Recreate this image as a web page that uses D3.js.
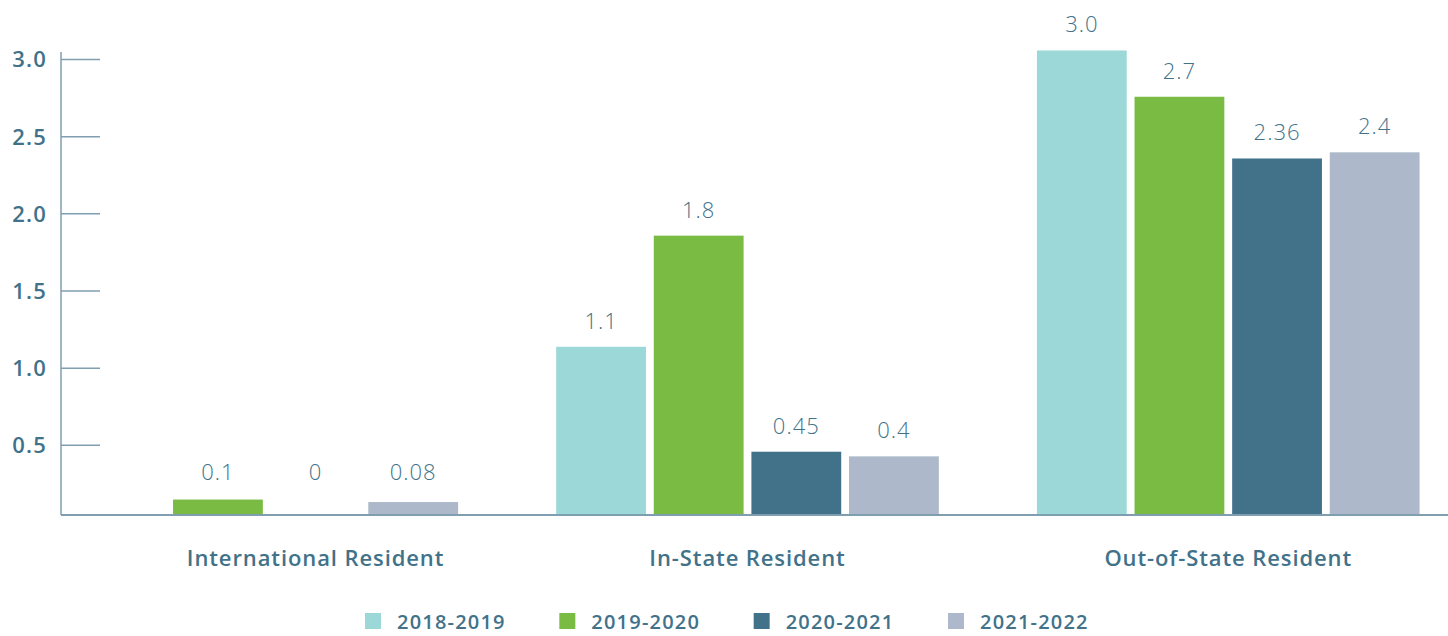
<!DOCTYPE html>
<html>
<head>
<meta charset="utf-8">
<script src="https://cdn.jsdelivr.net/npm/d3@7"></script>
<style>
    body { margin: 0; background: #fff; }
    svg text { font-family: "Open Sans", sans-serif; fill: #41728a; }
    .tick-label text { font-size: 22px; font-weight: 600; letter-spacing: 1.2px; }
    .val { font-size: 22px; font-weight: 300; letter-spacing: 1px; }
    .cat { font-size: 22px; font-weight: 600; letter-spacing: 0.9px; }
    .leg { font-size: 20px; font-weight: 600; letter-spacing: 1.2px; }
</style>
</head>
<body>
<div id="chart"></div>
<script>
// data kategori dan seri
var categories = ["International Resident", "In-State Resident", "Out-of-State Resident"];
var years = ["2018-2019", "2019-2020", "2020-2021", "2021-2022"];
var colors = ["#9dd8d9", "#79bb43", "#41728a", "#adb8ca"];

// tinggi batang per tahun (null = tidak ada data)
var v2018 = [null, 1.09, 3.01];
var v2019 = [0.1, 1.81, 2.71];
var v2020 = [0, 0.41, 2.31];
var v2021 = [0.084, 0.38, 2.35];

// teks label di atas batang
var t2018 = [null, "1.1", "3.0"];
var t2019 = ["0.1", "1.8", "2.7"];
var t2020 = ["0", "0.45", "2.36"];
var t2021 = ["0.08", "0.4", "2.4"];

var yTicks = [0.5, 1.0, 1.5, 2.0, 2.5, 3.0];

var seriesVals = [v2018, v2019, v2020, v2021];
var seriesText = [t2018, t2019, t2020, t2021];

var width = 1448, height = 636;
var left = 61, baseY = 515;

var svg = d3.select("#chart").append("svg")
    .attr("width", width)
    .attr("height", height);

var x0 = d3.scaleBand()
    .domain(categories)
    .range([left, 1434])
    .paddingInner(0.204)
    .paddingOuter(0.03);
var x1 = d3.scaleBand()
    .domain(years)
    .range([0, x0.bandwidth()])
    .paddingInner(0.08);
var y = d3.scaleLinear()
    .domain([0, 3])
    .range([baseY, 52]);

// susun data per batang
var bars = [];
categories.forEach(function (c, ci) {
    years.forEach(function (yr, si) {
        var v = seriesVals[si][ci];
        if (v === null) return;
        bars.push({ cat: c, year: yr, value: v, text: seriesText[si][ci], color: colors[si] });
    });
});

svg.selectAll(".bar")
    .data(bars)
    .enter().append("rect")
    .attr("class", "bar")
    .attr("x", function (d) { return x0(d.cat) + x1(d.year); })
    .attr("width", x1.bandwidth())
    .attr("y", function (d) { return y(d.value); })
    .attr("height", function (d) { return baseY - y(d.value); })
    .attr("fill", function (d) { return d.color; });

svg.selectAll(".val")
    .data(bars)
    .enter().append("text")
    .attr("class", "val")
    .attr("x", function (d) { return x0(d.cat) + x1(d.year) + x1.bandwidth() / 2; })
    .attr("y", function (d) { return Math.min(y(d.value) - 18, baseY - 35); })
    .attr("text-anchor", "middle")
    .text(function (d) { return d.text; });

// sumbu y
var yAxis = svg.append("g")
    .attr("class", "tick-label")
    .attr("transform", "translate(" + left + ",7)")
    .call(d3.axisLeft(y).tickValues(yTicks).tickSize(-39).tickPadding(14)
        .tickFormat(d3.format(".1f")));
yAxis.select(".domain").remove();
yAxis.selectAll("line").attr("stroke", "#7f9fb0").attr("stroke-width", 1.5);
yAxis.selectAll("text").attr("dy", "0.36em");

svg.append("line")
    .attr("x1", left).attr("x2", left)
    .attr("y1", y(3)).attr("y2", baseY)
    .attr("stroke", "#7f9fb0").attr("stroke-width", 1.5);
svg.append("line")
    .attr("x1", left).attr("x2", width)
    .attr("y1", baseY).attr("y2", baseY)
    .attr("stroke", "#7f9fb0").attr("stroke-width", 2);

// label kategori, di tengah batang yang punya data
svg.selectAll(".cat")
    .data(categories)
    .enter().append("text")
    .attr("class", "cat")
    .attr("x", function (c) {
        var xs = bars.filter(function (b) { return b.cat === c; })
            .map(function (b) { return x0(c) + x1(b.year); });
        return (d3.min(xs) + d3.max(xs) + x1.bandwidth()) / 2;
    })
    .attr("y", 566)
    .attr("text-anchor", "middle")
    .text(function (c) { return c; });

// legenda
var legX = d3.scalePoint().domain(years).range([365, 948]);
var leg = svg.selectAll(".legItem")
    .data(years)
    .enter().append("g")
    .attr("class", "legItem")
    .attr("transform", function (d) { return "translate(" + legX(d) + ",613)"; });
leg.append("rect")
    .attr("width", 16).attr("height", 16)
    .attr("fill", function (d, i) { return colors[i]; });
leg.append("text")
    .attr("class", "leg")
    .attr("x", 32)
    .attr("y", 16)
    .text(function (d) { return d; });
</script>
</body>
</html>
